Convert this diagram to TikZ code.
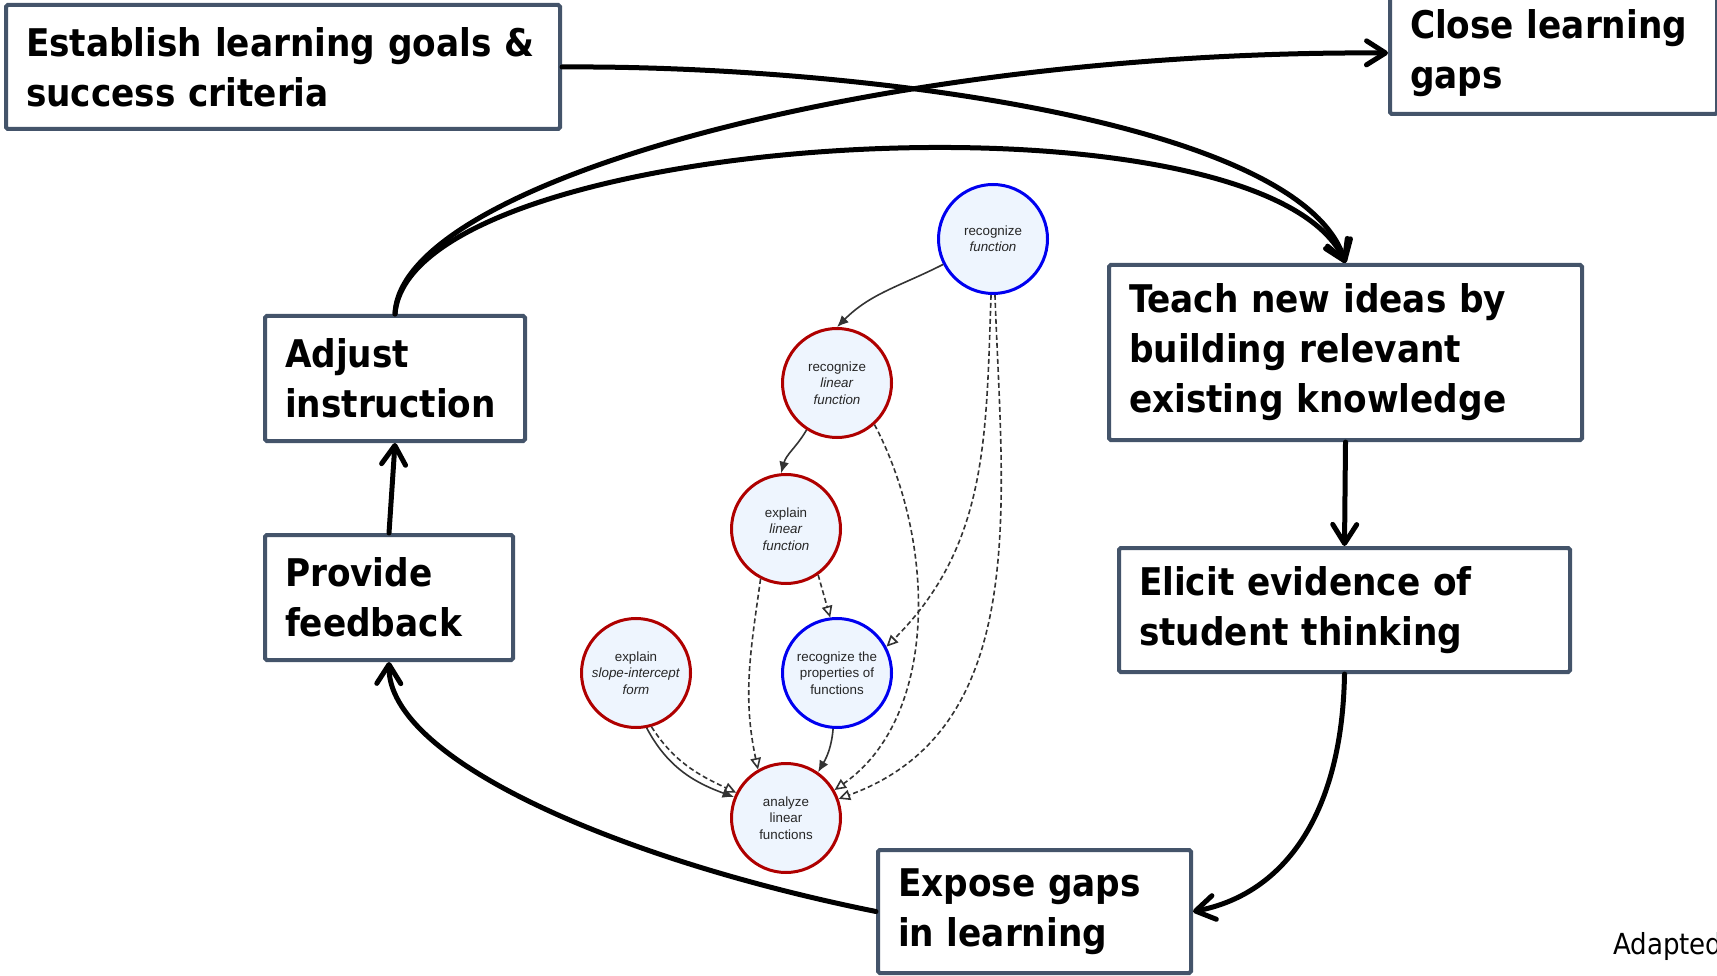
\documentclass[tikz,border=0pt]{standalone}
\usepackage{fontspec}
\setmainfont{DejaVu Sans Condensed}
\newfontfamily\skillfont{Liberation Sans}
\usetikzlibrary{arrows.meta}
\definecolor{boxborder}{RGB}{68,84,106}
\definecolor{skillfill}{RGB}{238,245,254}
\definecolor{skillred}{RGB}{175,0,0}
\definecolor{skillblue}{RGB}{0,0,240}
\definecolor{linkgray}{RGB}{51,51,51}
\tikzset{
  box/.style={rectangle, rounded corners=1pt, draw=boxborder, line width=0.8mm, fill=white,
              anchor=north west, align=left, inner xsep=4mm, inner ysep=0pt,
              font=\bfseries\fontsize{21.7}{28.5}\selectfont},
  skill/.style={circle, fill=skillfill, line width=0.6mm, minimum size=21.8mm, inner sep=0pt,
                align=center, text=black!85, font=\skillfont\fontsize{7.6}{9.3}\selectfont},
  redskill/.style={skill, draw=skillred},
  blueskill/.style={skill, draw=skillblue},
  arr/.style={-{Straight Barb[length=3.8mm, width=4.8mm, round]}, line width=1mm, line cap=round},
  link/.style={-{Latex[length=2.3mm, width=2mm]}, line width=0.32mm, draw=linkgray},
  dlink/.style={-{Triangle[open, length=2.3mm, width=2.1mm]}, line width=0.32mm, draw=linkgray,
                dash pattern=on 1mm off 0.6mm}
}

\begin{document}
\begin{tikzpicture}[x=0.2mm, y=-0.2mm]
\useasboundingbox (0,0) rectangle (1717,976);
\node[box, text width=102.8mm, minimum height=24.8mm] (goals) at (4,3) {Establish learning goals \&\\ success criteria};
\node[box, text width=57.4mm, minimum height=24.4mm] (close) at (1388,-10) {Close learning\\ gaps};
\node[box, text width=44mm, minimum height=25mm] (adjust) at (263,314) {Adjust\\ instruction};
\node[box, text width=41.6mm, minimum height=25mm] (feedback) at (263,533) {Provide\\ feedback};
\node[box, text width=86.6mm, minimum height=35mm] (teach) at (1107,263) {Teach new ideas by\\ building relevant\\ existing knowledge};
\node[box, text width=82.2mm, minimum height=24.8mm] (elicit) at (1117,546) {Elicit evidence of\\ student thinking};
\node[box, text width=54.6mm, minimum height=24.6mm] (expose) at (876,848) {Expose gaps\\ in learning};
\node[anchor=base west, font=\fontsize{16.5}{20}\selectfont] (credit) at (1607,954) {Adapted};

\node[blueskill] (recfun) at (993,239) {recognize\\ \textit{function}};
\node[redskill] (reclin) at (837,383) {recognize\\ \textit{linear}\\ \textit{function}};
\node[redskill] (explin) at (786,529) {explain\\ \textit{linear}\\ \textit{function}};
\node[blueskill] (recprop) at (837,673) {recognize the\\ properties of\\ functions};
\node[redskill] (slope) at (636,673) {explain\\ \textit{slope-intercept}\\ \textit{form}};
\node[redskill] (analyze) at (786,818) {analyze\\ linear\\ functions};

\draw[arr] (goals.east) .. controls (850,65) and (1300,120) .. (teach.north);
\draw[arr] (adjust.north) .. controls (400,180) and (890,50) .. (close.west);
\draw[arr] (adjust.north) .. controls (410,130) and (1260,80) .. (teach.north);
\draw[arr] (teach.south) -- (elicit.north);
\draw[arr] (elicit.south) .. controls (1342,820) and (1280,895) .. (expose.east);
\draw[arr] (expose.west) .. controls (620,860) and (388,760) .. (feedback.south);
\draw[arr] (feedback.north) -- (adjust.south);

\draw[link] (recfun.207) to[out=207, in=45] (reclin.north);
\draw[link] (reclin.237) to[out=240, in=75] (explin.95);
\draw[dlink] (explin.-55) -- (recprop.97);
\draw[dlink] (explin.243) to[out=262, in=102] (analyze.120);
\draw[dlink] (reclin.-48) to[out=-62, in=35, looseness=0.9] (analyze.30);
\draw[dlink] (recfun.268) to[out=268, in=45] (recprop.28);
\draw[dlink] (recfun.272) to[out=272, in=20] (analyze.20);
\draw[link] (slope.-79) to[out=-62, in=160] (analyze.158);
\draw[dlink] (slope.-74) to[out=-57, in=155] (analyze.153);
\draw[link] (recprop.266) to[out=265, in=60] (analyze.55);
\end{tikzpicture}
\end{document}
